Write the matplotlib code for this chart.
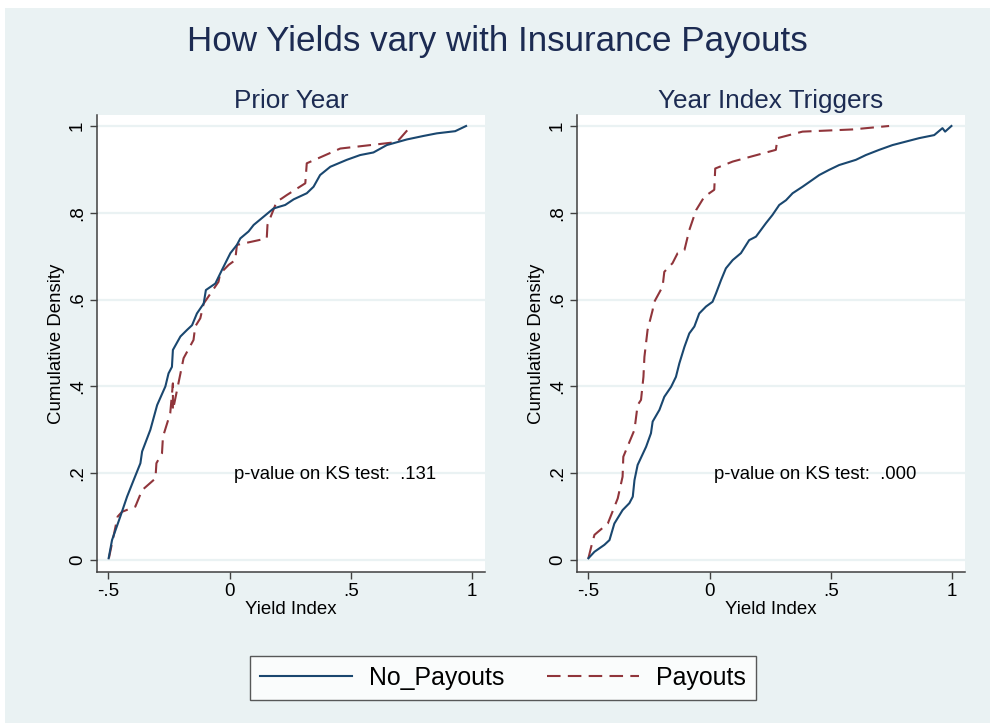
import numpy as np
import matplotlib.pyplot as plt
from matplotlib.patches import Rectangle

plt.rcParams['font.family'] = ['Liberation Sans', 'DejaVu Sans']

# Prior Year panel
prior_nopay_x = [-0.499, -0.485, -0.451, -0.423, -0.396, -0.368, -0.361, -0.327, -0.299, -0.265,
                 -0.252, -0.238, -0.234, -0.203, -0.176, -0.155, -0.135, -0.107, -0.098, -0.059,
                 -0.032, 0.003, 0.030, 0.044, 0.078, 0.099, 0.140, 0.181, 0.229, 0.264,
                 0.318, 0.346, 0.373, 0.415, 0.483, 0.538, 0.593, 0.648, 0.731, 0.799,
                 0.854, 0.930, 0.975]
prior_nopay_y = [0.004, 0.046, 0.100, 0.146, 0.184, 0.223, 0.250, 0.300, 0.357, 0.400,
                 0.430, 0.445, 0.484, 0.515, 0.530, 0.541, 0.568, 0.591, 0.622, 0.637,
                 0.668, 0.707, 0.726, 0.741, 0.757, 0.772, 0.791, 0.810, 0.818, 0.831,
                 0.845, 0.860, 0.887, 0.906, 0.922, 0.933, 0.939, 0.956, 0.969, 0.977,
                 0.983, 0.988, 1.000]
prior_pay_x = [-0.498, -0.462, -0.444, -0.389, -0.361, -0.306, -0.302, -0.279, -0.275, -0.245,
               -0.234, -0.234, -0.190, -0.149, -0.142, -0.121, -0.107, -0.046, -0.039, -0.004,
               0.023, 0.030, 0.153, 0.156, 0.194, 0.215, 0.236, 0.312, 0.318, 0.456,
               0.690, 0.748]
prior_pay_y = [0.004, 0.100, 0.111, 0.123, 0.161, 0.188, 0.223, 0.246, 0.284, 0.338,
               0.407, 0.345, 0.465, 0.507, 0.538, 0.557, 0.591, 0.641, 0.660, 0.680,
               0.691, 0.726, 0.741, 0.772, 0.826, 0.833, 0.841, 0.868, 0.914, 0.948,
               0.963, 1.000]

# Year Index Triggers panel
trig_nopay_x = [-0.500, -0.475, -0.434, -0.413, -0.393, -0.359, -0.331, -0.317, -0.310, -0.297,
                -0.262, -0.242, -0.235, -0.207, -0.187, -0.159, -0.139, -0.125, -0.104, -0.084,
                -0.063, -0.043, -0.015, 0.012, 0.026, 0.047, 0.067, 0.095, 0.129, 0.163,
                0.191, 0.232, 0.259, 0.287, 0.315, 0.342, 0.383, 0.424, 0.452, 0.493,
                0.534, 0.603, 0.644, 0.699, 0.754, 0.809, 0.864, 0.926, 0.960, 0.971,
                0.997]
trig_nopay_y = [0.004, 0.019, 0.035, 0.046, 0.084, 0.115, 0.131, 0.146, 0.184, 0.219,
                0.261, 0.292, 0.319, 0.346, 0.376, 0.399, 0.422, 0.453, 0.491, 0.522,
                0.538, 0.568, 0.584, 0.595, 0.614, 0.645, 0.672, 0.691, 0.707, 0.737,
                0.745, 0.776, 0.795, 0.818, 0.829, 0.845, 0.860, 0.876, 0.887, 0.899,
                0.910, 0.922, 0.933, 0.945, 0.956, 0.964, 0.972, 0.979, 0.995, 0.987,
                1.000]
trig_pay_x = [-0.500, -0.485, -0.475, -0.420, -0.379, -0.359, -0.356, -0.310, -0.297, -0.283,
              -0.273, -0.269, -0.256, -0.235, -0.232, -0.194, -0.187, -0.153, -0.132, -0.104,
              -0.084, -0.056, -0.022, 0.019, 0.023, 0.095, 0.273, 0.280, 0.383, 0.589,
              0.740]
trig_pay_y = [0.004, 0.038, 0.058, 0.084, 0.142, 0.192, 0.238, 0.300, 0.357, 0.369,
              0.422, 0.468, 0.530, 0.576, 0.591, 0.630, 0.664, 0.684, 0.707, 0.714,
              0.760, 0.806, 0.837, 0.853, 0.902, 0.918, 0.945, 0.972, 0.987, 0.992,
              1.000]

panels = [("Prior Year", prior_nopay_x, prior_nopay_y, prior_pay_x, prior_pay_y, ".131"),
          ("Year Index Triggers", trig_nopay_x, trig_nopay_y, trig_pay_x, trig_pay_y, ".000")]

bg = '#EAF2F3'
navy = '#1A476F'
maroon = '#90353B'
title_col = '#1C2B52'

fig = plt.figure(figsize=(9.9, 7.23), dpi=100, facecolor='white')
fig.patches.append(Rectangle((0.005, 0), 0.995, 1 - 8 / 723, transform=fig.transFigure,
                             facecolor=bg, edgecolor='none', zorder=-10))

fig.text(0.5025, 1 - 42 / 723, "How Yields vary with Insurance Payouts", ha='center', va='center',
         fontsize=25.2, color=title_col)

lefts = [97 / 990, 577 / 990]
lines = []
for left, (name, nx, ny, px, py, pval) in zip(lefts, panels):
    ax = fig.add_axes([left, 1 - 572 / 723, 388 / 990, 457 / 723])
    ax.set_facecolor('white')
    for y in [0, 0.2, 0.4, 0.6, 0.8, 1.0]:
        ax.axhline(y, color=bg, lw=1.6, zorder=1)
    l1, = ax.plot(nx, ny, color=navy, lw=1.5, zorder=3, label='No_Payouts')
    l2, = ax.plot(px, py, color=maroon, lw=1.5, ls=(0, (6.5, 3.5)), zorder=2, label='Payouts')
    lines = [l1, l2]
    ax.set_xlim(-0.547, 1.053)
    ax.set_ylim(-0.0276, 1.0253)
    ax.set_xticks([-0.5, 0, 0.5, 1])
    ax.set_xticklabels(['-.5', '0', '.5', '1'])
    ax.set_yticks([0, 0.2, 0.4, 0.6, 0.8, 1.0])
    ax.set_yticklabels(['0', '.2', '.4', '.6', '.8', '1'], rotation=90, va='center')
    ax.tick_params(direction='out', length=5, width=1, color='#404040', labelsize=13.5,
                   labelcolor='black', pad=3)
    for s in ['top', 'right']:
        ax.spines[s].set_visible(False)
    for s in ['left', 'bottom']:
        ax.spines[s].set_color('#404040')
        ax.spines[s].set_linewidth(1.1)
    ax.set_xlabel('Yield Index', fontsize=13.4, labelpad=1)
    ax.set_ylabel('Cumulative Density', fontsize=13.4, labelpad=3)
    ax.set_title(name, fontsize=18.8, color=title_col, pad=5)
    ax.text(0.019, 0.198, "p-value on KS test:  " + pval, fontsize=13.3, va='center', ha='left')

leg = fig.legend(lines, ['No_Payouts', 'Payouts'], loc='center', bbox_to_anchor=(503 / 990, 1 - 678 / 723),
                 ncol=2, fontsize=17.9, frameon=True, fancybox=False, handlelength=3.7,
                 columnspacing=1.7, borderpad=0.4, handletextpad=0.7)
leg.get_frame().set_edgecolor('#303030')
leg.get_frame().set_linewidth(1.0)

fig.savefig('out.png', dpi=100, facecolor=fig.get_facecolor())
